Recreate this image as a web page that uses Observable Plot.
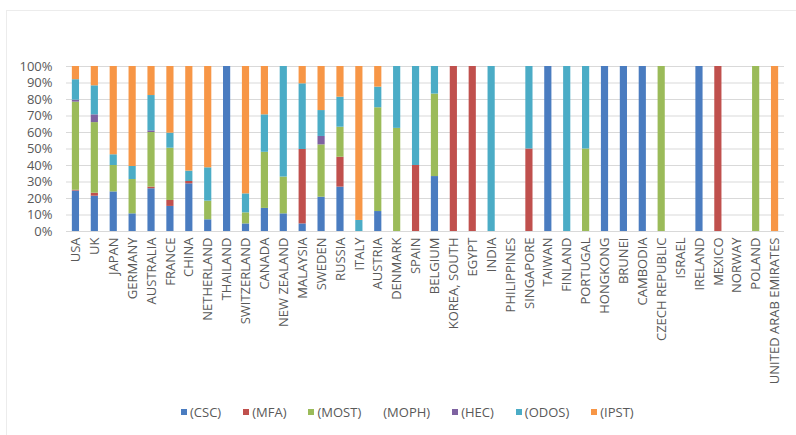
<!DOCTYPE html>
<html>
<head>
<meta charset="utf-8">
<script src="https://cdn.jsdelivr.net/npm/d3@7"></script>
<script src="https://cdn.jsdelivr.net/npm/@observablehq/plot@0.6"></script>
<style>
  html, body { margin: 0; padding: 0; background: #fff; }
  body { width: 796px; height: 435px; position: relative; overflow: hidden; font-family: "Open Sans", sans-serif; }
  #frame { position: absolute; left: 6px; top: 10px; right: -2px; bottom: -2px; border-left: 1px solid #ececec; border-top: 1px solid #ececec; }
  #chart { position: absolute; left: 0; top: 0; }
  #legend { position: absolute; left: 181px; top: 403px; display: flex; align-items: center; font-size: 13px; color: #595959; white-space: nowrap; }
  #legend .item { display: flex; align-items: center; margin-right: 22px; }
  #legend .sw { width: 6px; height: 6px; margin-right: 3px; }
</style>
</head>
<body>
<div id="frame"></div>
<div id="chart"></div>
<div id="legend"></div>
<script>
const countries = ["USA","UK","JAPAN","GERMANY","AUSTRALIA","FRANCE","CHINA","NETHERLAND","THAILAND","SWITZERLAND","CANADA","NEW ZEALAND","MALAYSIA","SWEDEN","RUSSIA","ITALY","AUSTRIA","DENMARK","SPAIN","BELGIUM","KOREA, SOUTH","EGYPT","INDIA","PHILIPPINES","SINGAPORE","TAIWAN","FINLAND","PORTUGAL","HONGKONG","BRUNEI","CAMBODIA","CZECH REPUBLIC","ISRAEL","IRELAND","MEXICO","NORWAY","POLAND","UNITED ARAB EMIRATES"];
const seriesNames = ["(CSC)","(MFA)","(MOST)","(MOPH)","(HEC)","(ODOS)","(IPST)"];
const seriesColors = ["#4A7CC0","#C0504D","#9BBB59","#FFFFFF","#7E62A1","#4BACC6","#F79646"];

const CSC  = [24.5,21.4,24,10.7,25.9,15.2,28.9,7.1,100,4.6,14,10.7,4.6,20.8,26.9,0,12.1,0,0,33.3,0,0,0,0,0,100,0,0,100,100,100,0,0,100,0,0,0,0];
const MFA  = [0.5,1.8,0,0,1,3.6,1.4,0,0,0,0,0,45.1,0,18.1,0,0,0,40,0,100,100,0,0,50,0,0,0,0,0,0,0,0,0,100,0,0,0];
const MOST = [53.4,42.8,16,20.8,33.1,31.7,0,11.3,0,6.7,34,22.3,0,31.7,18.2,0,62.9,62.5,0,50,0,0,0,0,0,0,0,50,0,0,0,100,0,0,0,0,100,0];
const MOPH = [0,0,0,0,0,0,0,0,0,0,0,0,0,0,0,0,0,0,0,0,0,0,0,0,0,0,0,0,0,0,0,0,0,0,0,0,0,0];
const HEC  = [1.2,4.7,0,0,1,0,0,0,0,0,0,0,0,5.1,0,0,0,0,0,0,0,0,0,0,0,0,0,0,0,0,0,0,0,0,0,0,0,0];
const ODOS = [12.4,17.6,6.5,7.9,21.4,9.1,6.3,20.2,0,11.5,22.7,67,39.8,15.7,18.2,6.7,12.5,37.5,60,16.7,0,0,100,0,50,0,100,50,0,0,0,0,0,0,0,0,0,0];
const IPST = [8,11.7,53.5,60.6,17.6,40.4,63.4,61.4,0,77.2,29.3,0,10.5,26.7,18.6,93.3,12.5,0,0,0,0,0,0,0,0,0,0,0,0,0,0,0,0,0,0,0,0,100];
const yTicks = [0,10,20,30,40,50,60,70,80,90,100];

const seriesValues = [CSC, MFA, MOST, MOPH, HEC, ODOS, IPST];
const data = [];
countries.forEach((c, i) => {
  seriesNames.forEach((s, j) => {
    const v = seriesValues[j][i];
    if (v > 0) data.push({country: c, series: s, value: v});
  });
});

const chart = Plot.plot({
  width: 796,
  height: 398,
  marginLeft: 66,
  marginRight: 12,
  marginTop: 66,
  marginBottom: 167,
  style: {fontFamily: "Open Sans, sans-serif", fontSize: "13px", color: "#595959", background: "transparent"},
  x: {domain: countries, paddingInner: 0.62, paddingOuter: 0.31, label: null},
  y: {domain: [0, 100], label: null},
  color: {domain: seriesNames, range: seriesColors},
  marks: [
    Plot.gridY(yTicks, {stroke: "#d9d9d9", strokeOpacity: 1}),
    Plot.barY(data, Plot.stackY({x: "country", y: "value", fill: "series", order: seriesNames, inset: 0})),
    Plot.axisY(yTicks, {tickSize: 0, tickPadding: 14, tickFormat: d => d + "%", fill: "#595959", fontSize: 13}),
    Plot.axisX({tickSize: 0, tickPadding: 6, tickRotate: -90, fill: "#595959", fontSize: 13})
  ]
});
document.getElementById("chart").appendChild(chart);

const legend = document.getElementById("legend");
seriesNames.forEach((s, j) => {
  const item = document.createElement("div");
  item.className = "item";
  if (s !== "(MOPH)") {
    const sw = document.createElement("div");
    sw.className = "sw";
    sw.style.background = seriesColors[j];
    item.appendChild(sw);
  }
  const t = document.createElement("span");
  t.textContent = s;
  item.appendChild(t);
  legend.appendChild(item);
});
</script>
</body>
</html>
